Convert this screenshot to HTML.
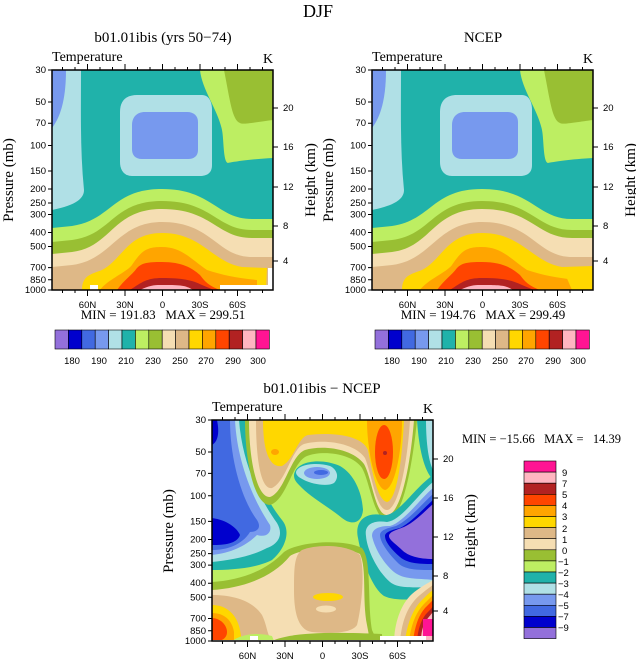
<!DOCTYPE html>
<html><head><meta charset="utf-8"><style>
html,body{margin:0;padding:0;background:#fff}
svg{display:block}
.t{font-family:"Liberation Serif",serif}
.k{font-family:"Liberation Sans",sans-serif;font-size:9.5px;fill:#000}
.pre{white-space:pre}
</style></head><body>
<svg width="636" height="660" viewBox="0 0 636 660" xmlns="http://www.w3.org/2000/svg">
<defs>
<clipPath id="c"><rect x="0" y="0" width="221" height="220"/></clipPath>
<g id="topfill">
<rect x="0" y="0" width="221" height="220" fill="#20B2AA"/>
<path d="M0,0 L29,0 C29,40 28,80 32,120 C32,128 25,135 0,140 Z" fill="#B0E0E6"/>
<path d="M0,0 L14,0 C14,25 10,45 0,58 Z" fill="#7799EE"/>
<path d="M148,0 L221,0 L221,88 C200,89 180,92 176,93 C171,92 172,70 170,60 C166,40 150,20 148,0Z" fill="#BDEE62"/>
<path d="M172,0 L221,0 L221,50 C205,52 190,55 188,53 C180,50 178,30 172,0Z" fill="#99BF33"/>
<path d="M85,25 L150,25 C157,25 160,32 160,40 L160,95 C160,103 155,106 148,106 L80,106 C72,106 68,100 68,92 L68,42 C68,30 75,25 85,25Z" fill="#B0E0E6"/>
<path d="M93,42 L135,42 C142,42 146,46 146,52 L146,80 C146,86 142,89 136,89 L90,89 C83,89 80,85 80,79 L80,55 C80,47 85,42 93,42Z" fill="#7799EE"/>
<path d="M0,158 L20,156 C60,150 60,119 110,119 C160,119 165,149 200,149 L221,149 L221,220 L0,220Z" fill="#BDEE62"/>
<path d="M0,172 L20,170 C60,165 60,131 110,131 C160,131 165,160 200,160 L221,160 L221,220 L0,220Z" fill="#99BF33"/>
<path d="M0,184 L20,182 C60,177 60,139 110,139 C160,139 165,168 200,168 L221,168 L221,220 L0,220Z" fill="#F5DEB3"/>
<path d="M0,197 L20,195 C60,190 65,152 110,152 C160,152 165,187 200,187 L221,187 L221,220 L0,220Z" fill="#DEB887"/>
<path d="M30,220 C30,205 40,204 50,200 C70,190 75,163 110,163 C150,163 160,192 190,197 L215,198 L214,220Z" fill="#FFD700"/>
<path d="M48,220 C55,210 75,202 80,195 C90,180 95,177 110,177 C130,177 140,190 155,200 C170,205 185,208 205,210 L205,220Z" fill="#FFA500"/>
<path d="M65,220 C72,210 80,205 85,198 C90,193 95,192 110,192 C130,192 140,198 148,205 C152,210 155,215 168,220Z" fill="#FF4500"/>
<path d="M78,220 C90,212 95,208 110,208 C130,208 140,210 150,215 L162,220Z" fill="#B22222"/>
<path d="M88,220 C100,214 105,215 115,215 C130,215 135,216 141,220Z" fill="#FFB6C1"/>
</g>
</defs>

<text x="318" y="17" class="t" font-size="18" text-anchor="middle">DJF</text>

<text x="163" y="42" class="t" font-size="15" text-anchor="middle">b01.01ibis (yrs 50−74)</text>
<g transform="translate(52,70)">
<g clip-path="url(#c)"><use href="#topfill"/>
<rect x="38" y="215" width="8" height="6" fill="#fff"/>
<rect x="168" y="215" width="53" height="6" fill="#fff"/>
<rect x="216" y="198" width="6" height="22" fill="#fff"/>
</g>
</g>
<text x="483" y="42" class="t" font-size="15" text-anchor="middle">NCEP</text>
<g transform="translate(372,70)">
<g clip-path="url(#c)"><use href="#topfill"/>
<path d="M200,187 L221,187 L221,220 L200,220Z" fill="#DEB887"/>
<path d="M190,197 L221,196 L221,220 L200,220Z" fill="#FFD700"/>
<rect x="0" y="210" width="30" height="10" fill="#DEB887"/>
</g>
</g>

<g transform="translate(52,70)" stroke="#000" fill="none">
<rect x="0" y="0" width="221" height="220" stroke-width="1.5"/>
<path d="M0,0h-4M0,32h-4M0,53.2h-4M0,75.5h-4M0,101h-4M0,119h-4M0,133h-4M0,144.5h-4M0,162.5h-4M0,176.5h-4M0,197.6h-4M0,209.8h-4M0,220h-4" />
<path d="M221,38h5M221,77h5M221,117h5M221,156h5M221,191h5"/>
<path d="M35.5,220v6M73,220v6M110.5,220v6M148,220v6M185.5,220v6M35.5,0v-6M73,0v-6M110.5,0v-6M148,0v-6M185.5,0v-6"/>
<path d="M10.5,220v3M23,220v3M48,220v3M60.5,220v3M85.5,220v3M98,220v3M123,220v3M135.5,220v3M160.5,220v3M173,220v3M198,220v3M210.5,220v3M10.5,0v-3M23,0v-3M48,0v-3M60.5,0v-3M85.5,0v-3M98,0v-3M123,0v-3M135.5,0v-3M160.5,0v-3M173,0v-3M198,0v-3M210.5,0v-3"/>
</g>
<g transform="translate(372,70)" stroke="#000" fill="none">
<rect x="0" y="0" width="221" height="220" stroke-width="1.5"/>
<path d="M0,0h-4M0,32h-4M0,53.2h-4M0,75.5h-4M0,101h-4M0,119h-4M0,133h-4M0,144.5h-4M0,162.5h-4M0,176.5h-4M0,197.6h-4M0,209.8h-4M0,220h-4" />
<path d="M221,38h5M221,77h5M221,117h5M221,156h5M221,191h5"/>
<path d="M35.5,220v6M73,220v6M110.5,220v6M148,220v6M185.5,220v6M35.5,0v-6M73,0v-6M110.5,0v-6M148,0v-6M185.5,0v-6"/>
<path d="M10.5,220v3M23,220v3M48,220v3M60.5,220v3M85.5,220v3M98,220v3M123,220v3M135.5,220v3M160.5,220v3M173,220v3M198,220v3M210.5,220v3M10.5,0v-3M23,0v-3M48,0v-3M60.5,0v-3M85.5,0v-3M98,0v-3M123,0v-3M135.5,0v-3M160.5,0v-3M173,0v-3M198,0v-3M210.5,0v-3"/>
</g>

<g class="k" text-anchor="end">
<text x="46" y="73">30</text><text x="46" y="105">50</text><text x="46" y="126">70</text><text x="46" y="148.5">100</text><text x="46" y="174">150</text><text x="46" y="192">200</text><text x="46" y="206">250</text><text x="46" y="217.5">300</text><text x="46" y="235.5">400</text><text x="46" y="249.5">500</text><text x="46" y="270.6">700</text><text x="46" y="282.8">850</text><text x="46" y="293">1000</text>
<text x="366" y="73">30</text><text x="366" y="105">50</text><text x="366" y="126">70</text><text x="366" y="148.5">100</text><text x="366" y="174">150</text><text x="366" y="192">200</text><text x="366" y="206">250</text><text x="366" y="217.5">300</text><text x="366" y="235.5">400</text><text x="366" y="249.5">500</text><text x="366" y="270.6">700</text><text x="366" y="282.8">850</text><text x="366" y="293">1000</text>
</g>
<g class="k">
<text x="283" y="111">20</text><text x="283" y="150">16</text><text x="283" y="190">12</text><text x="283" y="229">8</text><text x="283" y="264">4</text>
<text x="603" y="111">20</text><text x="603" y="150">16</text><text x="603" y="190">12</text><text x="603" y="229">8</text><text x="603" y="264">4</text>
</g>
<g class="k" text-anchor="middle">
<text x="87.5" y="308">60N</text><text x="125" y="308">30N</text><text x="162.5" y="308">0</text><text x="200" y="308">30S</text><text x="237.5" y="308">60S</text>
<text x="407.5" y="308">60N</text><text x="445" y="308">30N</text><text x="482.5" y="308">0</text><text x="520" y="308">30S</text><text x="557.5" y="308">60S</text>
</g>
<g class="t" font-size="14">
<text x="52" y="61">Temperature</text><text x="263" y="63">K</text>
<text x="372" y="61">Temperature</text><text x="583" y="63">K</text>
</g>
<g class="t" font-size="15" text-anchor="middle">
<text transform="translate(13,180) rotate(-90)">Pressure (mb)</text>
<text transform="translate(315,180) rotate(-90)">Height (km)</text>
<text transform="translate(333,180) rotate(-90)">Pressure (mb)</text>
<text transform="translate(635,180) rotate(-90)">Height (km)</text>
</g>
<g class="t pre" font-size="13" text-anchor="middle">
<text x="163" y="319" class="pre">MIN = 191.83   MAX = 299.51</text>
<text x="483" y="319" class="pre">MIN = 194.76   MAX = 299.49</text>
</g>

<g id="hb" stroke="#000" stroke-width="0.6">
<rect x="55" y="330" width="13.4" height="19" fill="#9370DB"/>
<rect x="68.4" y="330" width="13.4" height="19" fill="#0000CD"/>
<rect x="81.8" y="330" width="13.4" height="19" fill="#4169E1"/>
<rect x="95.2" y="330" width="13.4" height="19" fill="#7799EE"/>
<rect x="108.6" y="330" width="13.4" height="19" fill="#B0E0E6"/>
<rect x="122" y="330" width="13.4" height="19" fill="#20B2AA"/>
<rect x="135.4" y="330" width="13.4" height="19" fill="#BDEE62"/>
<rect x="148.8" y="330" width="13.4" height="19" fill="#99BF33"/>
<rect x="162.2" y="330" width="13.4" height="19" fill="#F5DEB3"/>
<rect x="175.6" y="330" width="13.4" height="19" fill="#DEB887"/>
<rect x="189" y="330" width="13.4" height="19" fill="#FFD700"/>
<rect x="202.4" y="330" width="13.4" height="19" fill="#FFA500"/>
<rect x="215.8" y="330" width="13.4" height="19" fill="#FF4500"/>
<rect x="229.2" y="330" width="13.4" height="19" fill="#B22222"/>
<rect x="242.6" y="330" width="13.4" height="19" fill="#FFB6C1"/>
<rect x="256" y="330" width="13.4" height="19" fill="#FF1493"/>
</g>
<use href="#hb" transform="translate(320,0)"/>
<g class="k" text-anchor="middle" font-size="10">
<text x="72" y="364">180</text><text x="99" y="364">190</text><text x="126" y="364">210</text><text x="153" y="364">230</text><text x="180" y="364">250</text><text x="206" y="364">270</text><text x="233" y="364">290</text><text x="258" y="364">300</text>
<text x="392" y="364">180</text><text x="419" y="364">190</text><text x="446" y="364">210</text><text x="473" y="364">230</text><text x="500" y="364">250</text><text x="526" y="364">270</text><text x="553" y="364">290</text><text x="578" y="364">300</text>
</g>

<text x="322" y="393" class="t" font-size="15" text-anchor="middle">b01.01ibis − NCEP</text>
<g transform="translate(212,420)">
<g clip-path="url(#c)">
<rect x="0" y="0" width="221" height="221" fill="#BDEE62"/>
<path d="M0,0 L33,0 C36,40 50,75 70,100 C80,112 72,130 60,140 C45,148 20,150 0,150Z" fill="#20B2AA"/>
<path d="M0,0 L27,0 C30,40 45,75 65,103 C72,115 66,124 55,128 C40,136 20,140 0,142Z" fill="#B0E0E6"/>
<path d="M0,0 L23,0 C25,40 40,78 58,105 C60,112 55,118 45,115 C35,125 20,133 0,135Z" fill="#7799EE"/>
<path d="M0,0 L18,0 C18,40 30,80 45,100 C50,108 45,112 38,112 C30,125 15,130 0,130Z" fill="#4169E1"/>
<path d="M0,0 L5,0 C8,15 5,22 0,25Z" fill="#0000CD"/>
<path d="M0,98 C15,100 25,108 28,115 C25,124 12,125 0,125Z" fill="#0000CD"/>
<path d="M33,0 L205,0 C200,50 190,100 175,100 C162,100 158,62 150,48 C140,33 110,30 95,36 C80,42 75,80 58,85 C42,85 33,40 33,0Z" fill="#99BF33"/>
<path d="M37,0 L202,0 C198,50 188,95 175,95 C163,95 160,58 152,44 C140,28 110,25 93,30 C78,36 73,72 58,77 C45,78 37,40 37,0Z" fill="#F5DEB3"/>
<path d="M44,0 L198,0 C195,50 185,90 175,90 C164,90 160,55 153,38 C142,22 110,19 92,24 C80,28 74,62 60,68 C49,70 44,40 44,0Z" fill="#DEB887"/>
<path d="M51,0 L192,0 C190,40 185,80 175,82 C165,80 160,50 156,30 C150,15 120,12 96,15 C86,17 82,40 70,46 C57,48 51,30 51,0Z" fill="#FFD700"/>
<path d="M155,0 L190,0 C190,30 183,68 173,70 C163,68 155,30 155,0Z" fill="#FFA500"/>
<ellipse cx="172" cy="32" rx="9" ry="27" fill="#FF4500"/>
<circle cx="173" cy="33" r="2" fill="#B22222"/>
<ellipse cx="63" cy="32" rx="4" ry="3" fill="#FFA500"/>
<path d="M205,0 L221,0 L221,60 C212,50 207,30 205,0Z" fill="#20B2AA"/>
<path d="M214,0 L221,0 L221,50 C216,40 214,20 214,0Z" fill="#B0E0E6"/>
<path d="M221,55 L221,180 C200,178 185,182 172,176 C160,168 150,140 146,118 C142,100 155,92 170,95 C185,98 200,70 221,55Z" fill="#20B2AA"/>
<path d="M221,62 L221,168 C205,166 188,170 178,162 C166,152 155,130 154,116 C152,104 162,100 175,102 C190,100 205,75 221,62Z" fill="#B0E0E6"/>
<path d="M221,68 L221,160 C205,158 192,160 182,152 C170,142 162,126 160,116 C160,108 168,106 178,106 C192,102 207,80 221,68Z" fill="#7799EE"/>
<path d="M221,74 L221,150 C205,150 192,150 185,142 C176,133 168,122 168,115 C168,110 176,108 184,106 C197,100 210,84 221,74Z" fill="#4169E1"/>
<path d="M221,80 L221,144 C205,144 195,143 188,137 C180,130 173,122 173,116 C173,112 180,110 188,108 C200,102 212,88 221,80Z" fill="#0000CD"/>
<path d="M221,84 L221,139 C207,139 196,136 190,130 C184,124 177,120 177,116 C177,112 184,110 192,107 C203,102 214,90 221,84Z" fill="#9370DB"/>
<path d="M82,55 C84,40 110,38 128,46 C142,54 150,72 151,90 C150,103 140,106 130,98 C118,88 100,78 90,68 C84,62 82,60 82,55Z" fill="#20B2AA"/>
<path d="M84,52 C86,44 105,42 118,46 C126,50 127,58 122,63 C115,67 100,64 92,60 C86,57 84,55 84,52Z" fill="#B0E0E6"/>
<ellipse cx="105" cy="53" rx="13" ry="6" fill="#7799EE"/>
<ellipse cx="109" cy="52.5" rx="7" ry="2.5" fill="#4169E1"/>
<path d="M0,162 C30,160 55,150 72,132 C85,122 130,118 150,128 C160,140 155,180 160,210 L165,221 L0,221Z" fill="#99BF33"/>
<path d="M0,170 C30,168 60,158 78,136 C90,128 130,125 148,134 C155,148 150,180 155,205 L158,221 L0,221Z" fill="#F5DEB3"/>
<path d="M90,130 C105,124 135,124 148,135 C153,150 150,185 145,205 C140,213 120,214 100,212 C85,210 82,190 82,170 C82,150 82,135 90,130Z" fill="#DEB887"/>
<ellipse cx="116" cy="177" rx="15" ry="4" fill="#FFD700"/>
<ellipse cx="114" cy="189" rx="10" ry="3.5" fill="#F5DEB3"/>
<path d="M60,221 C80,212 120,212 170,214 L170,221Z" fill="#99BF33"/>
<path d="M0,175 C20,175 40,180 50,195 C55,205 55,215 60,221 L0,221Z" fill="#DEB887"/>
<path d="M0,185 C15,185 25,195 28,210 L30,221 L0,221Z" fill="#FFD700"/>
<path d="M0,193 C12,193 20,200 22,212 L22,221 L0,221Z" fill="#FFA500"/>
<path d="M0,198 C8,198 15,205 15,212 C15,218 10,221 5,221 L0,221Z" fill="#FF4500"/>
<path d="M20,221 C30,214 45,212 60,216 L62,221Z" fill="#BDEE62"/>
<rect x="38" y="216" width="8" height="5" fill="#fff"/>
<path d="M221,160 L221,221 L182,221 C183,200 190,180 205,170 C212,165 218,162 221,160Z" fill="#F5DEB3"/>
<path d="M221,165 L221,221 L188,221 C190,200 196,185 208,175 C214,170 218,167 221,165Z" fill="#DEB887"/>
<path d="M221,170 L221,221 L193,221 C195,205 200,190 210,180 C215,175 218,172 221,170Z" fill="#FFD700"/>
<path d="M221,175 L221,221 L197,221 C199,205 204,192 212,184 C216,180 219,177 221,175Z" fill="#FFA500"/>
<path d="M221,180 L221,221 L201,221 C203,205 207,195 213,188 C216,185 219,182 221,180Z" fill="#FF4500"/>
<path d="M221,186 L221,221 L205,221 C206,208 210,198 215,193 C218,190 220,188 221,186Z" fill="#B22222"/>
<path d="M221,192 L221,221 L209,221 C209,210 212,203 216,198Z" fill="#FFB6C1"/>
<rect x="211" y="199" width="10" height="17" fill="#FF1493"/>
<rect x="168" y="216" width="46" height="5" fill="#fff"/>
</g>
</g>
<g transform="translate(212,420)" stroke="#000" fill="none">
<rect x="0" y="0" width="221" height="221" stroke-width="1.5"/>
<path d="M0,0h-4M0,32h-4M0,53.4h-4M0,75.8h-4M0,101.4h-4M0,119.5h-4M0,133.6h-4M0,145.1h-4M0,163.2h-4M0,177.3h-4M0,198.5h-4M0,210.8h-4M0,221h-4"/>
<path d="M221,39h5M221,78h5M221,117h5M221,156h5M221,191h5"/>
<path d="M35.5,221v6M73,221v6M110.5,221v6M148,221v6M185.5,221v6M35.5,0v-6M73,0v-6M110.5,0v-6M148,0v-6M185.5,0v-6"/>
<path d="M10.5,221v3M23,221v3M48,221v3M60.5,221v3M85.5,221v3M98,221v3M123,221v3M135.5,221v3M160.5,221v3M173,221v3M198,221v3M210.5,221v3M10.5,0v-3M23,0v-3M48,0v-3M60.5,0v-3M85.5,0v-3M98,0v-3M123,0v-3M135.5,0v-3M160.5,0v-3M173,0v-3M198,0v-3M210.5,0v-3"/>
</g>
<g class="k" text-anchor="end">
<text x="206" y="423">30</text><text x="206" y="455">50</text><text x="206" y="476.4">70</text><text x="206" y="498.8">100</text><text x="206" y="524.4">150</text><text x="206" y="542.5">200</text><text x="206" y="556.6">250</text><text x="206" y="568.1">300</text><text x="206" y="586.2">400</text><text x="206" y="600.3">500</text><text x="206" y="621.5">700</text><text x="206" y="633.8">850</text><text x="206" y="644">1000</text>
</g>
<g class="k">
<text x="443" y="462">20</text><text x="443" y="501">16</text><text x="443" y="540">12</text><text x="443" y="579">8</text><text x="443" y="614">4</text>
</g>
<g class="k" text-anchor="middle">
<text x="247.5" y="659">60N</text><text x="285" y="659">30N</text><text x="322.5" y="659">0</text><text x="360" y="659">30S</text><text x="397.5" y="659">60S</text>
</g>
<g class="t" font-size="14">
<text x="212" y="411">Temperature</text><text x="423" y="413">K</text>
</g>
<g class="t" font-size="15" text-anchor="middle">
<text transform="translate(173,531) rotate(-90)">Pressure (mb)</text>
<text transform="translate(475,531) rotate(-90)">Height (km)</text>
</g>
<text x="462" y="443" class="t pre" font-size="12.5">MIN = −15.66   MAX =   14.39</text>

<g stroke="#000" stroke-width="0.6">
<rect x="524" y="461" width="32" height="11.1" fill="#FF1493"/>
<rect x="524" y="472.1" width="32" height="11.1" fill="#FFB6C1"/>
<rect x="524" y="483.2" width="32" height="11.1" fill="#B22222"/>
<rect x="524" y="494.3" width="32" height="11.1" fill="#FF4500"/>
<rect x="524" y="505.4" width="32" height="11.1" fill="#FFA500"/>
<rect x="524" y="516.5" width="32" height="11.1" fill="#FFD700"/>
<rect x="524" y="527.6" width="32" height="11.1" fill="#DEB887"/>
<rect x="524" y="538.7" width="32" height="11.1" fill="#F5DEB3"/>
<rect x="524" y="549.8" width="32" height="11.1" fill="#99BF33"/>
<rect x="524" y="560.9" width="32" height="11.1" fill="#BDEE62"/>
<rect x="524" y="572" width="32" height="11.1" fill="#20B2AA"/>
<rect x="524" y="583.1" width="32" height="11.1" fill="#B0E0E6"/>
<rect x="524" y="594.2" width="32" height="11.1" fill="#7799EE"/>
<rect x="524" y="605.3" width="32" height="11.1" fill="#4169E1"/>
<rect x="524" y="616.4" width="32" height="11.1" fill="#0000CD"/>
<rect x="524" y="627.5" width="32" height="11.1" fill="#9370DB"/>
</g>
<g class="k" font-size="10">
<text x="562" y="476">9</text><text x="562" y="487">7</text><text x="562" y="498">5</text><text x="562" y="509">4</text><text x="562" y="520">3</text><text x="562" y="532">2</text><text x="562" y="543">1</text><text x="562" y="554">0</text><text x="558" y="565">−1</text><text x="558" y="576">−2</text><text x="558" y="587">−3</text><text x="558" y="598">−4</text><text x="558" y="609">−5</text><text x="558" y="620">−7</text><text x="558" y="631">−9</text>
</g>
</svg>
</body></html>
